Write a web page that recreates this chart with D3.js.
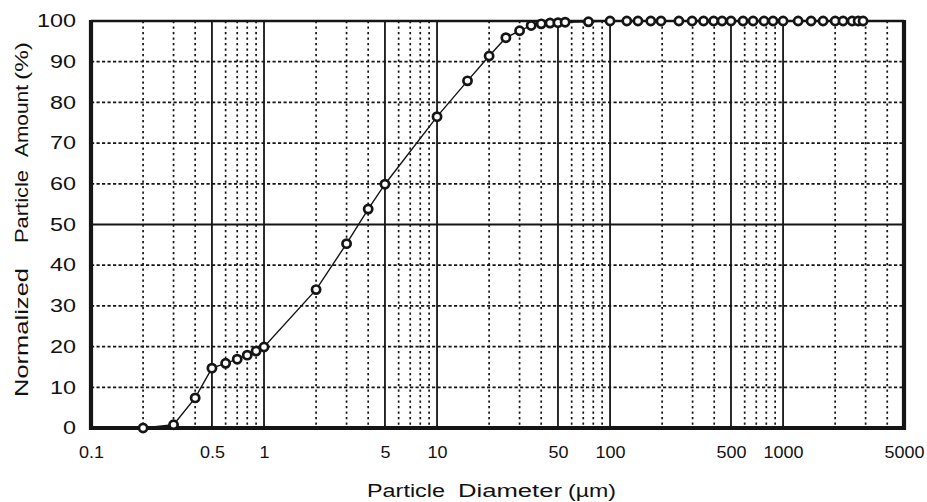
<!DOCTYPE html>
<html><head><meta charset="utf-8">
<script src="https://cdn.jsdelivr.net/npm/d3@7"></script>
<style>
html,body{margin:0;padding:0;background:#fff;}
svg{display:block;}
text{font-family:"Liberation Sans",Arial,Helvetica,sans-serif;fill:#111;}
</style></head><body>
<svg id="chart" width="927" height="502"></svg>
<script>
// ---- data ----
const diameters = [0.2, 0.3, 0.4, 0.5, 0.6, 0.7, 0.8, 0.9, 1, 2, 3, 4, 5, 10, 15, 20, 25, 30, 35, 40, 45, 50, 55, 75,
  100, 125, 145, 172, 197, 250, 298, 347, 397, 444, 500, 587, 671, 776, 875, 1000,
  1222, 1452, 1703, 2000, 2223, 2506, 2716, 2900];
const amounts = [0, 0.8, 7.4, 14.7, 15.9, 16.9, 17.9, 18.9, 19.9, 34.0, 45.3, 53.8, 59.9, 76.5, 85.3, 91.4, 95.9, 97.6, 98.9, 99.3, 99.5, 99.6, 99.7, 99.8,
  100, 100, 100, 100, 100, 100, 100, 100, 100, 100, 100, 100, 100, 100, 100, 100,
  100, 100, 100, 100, 100, 100, 100, 100];
const xTickValues = [0.1, 0.5, 1, 5, 10, 50, 100, 500, 1000, 5000];
const yTickValues = [0, 10, 20, 30, 40, 50, 60, 70, 80, 90, 100];
const xMajorGrid = [0.5, 1, 5, 10, 50, 100, 500, 1000];
const xMinorGrid = [0.2, 0.3, 0.4, 0.6, 0.7, 0.8, 0.9, 2, 3, 4, 6, 7, 8, 9, 20, 30, 40, 60, 70, 80, 90,
  200, 300, 400, 600, 700, 800, 900, 2000, 3000, 4000];
const yMajorGrid = [50];
const yMinorGrid = [10, 20, 30, 40, 60, 70, 80, 90];
const xTitleWords = ["Particle", "Diameter", "(µm)"];
const yTitleWords = ["Normalized", "Particle", "Amount", "(%)"];

// ---- layout ----
const L = 91, R = 904, T = 21, B = 428;
const x = d3.scaleLog().domain([0.1, 5000]).range([L, R]);
const y = d3.scaleLinear().domain([0, 100]).range([B, T]);
const svg = d3.select("#chart");
const ink = "#151515";

// grid
const grid = svg.append("g");
grid.append("g").selectAll("line").data(xMinorGrid).join("line")
  .attr("x1", d => x(d)).attr("x2", d => x(d)).attr("y1", T).attr("y2", B)
  .attr("stroke", ink).attr("stroke-width", 1.7).attr("stroke-dasharray", "2.3,3.2");
grid.append("g").selectAll("line").data(yMinorGrid).join("line")
  .attr("y1", d => y(d)).attr("y2", d => y(d)).attr("x1", L).attr("x2", R)
  .attr("stroke", ink).attr("stroke-width", 1.7).attr("stroke-dasharray", "3.2,2.3");
grid.append("g").selectAll("line").data(xMajorGrid).join("line")
  .attr("x1", d => x(d)).attr("x2", d => x(d)).attr("y1", T).attr("y2", B)
  .attr("stroke", ink).attr("stroke-width", 1.8);
grid.append("g").selectAll("line").data(yMajorGrid).join("line")
  .attr("y1", d => y(d)).attr("y2", d => y(d)).attr("x1", L).attr("x2", R)
  .attr("stroke", ink).attr("stroke-width", 1.8);

// frame
const frame = svg.append("g").attr("stroke", ink).attr("fill", "none");
frame.append("line").attr("x1", L).attr("x2", R).attr("y1", T).attr("y2", T).attr("stroke-width", 2.6);
frame.append("line").attr("x1", L).attr("x2", L).attr("y1", T - 1).attr("y2", B + 2).attr("stroke-width", 4.2);
frame.append("line").attr("x1", R).attr("x2", R).attr("y1", T - 1).attr("y2", B + 2).attr("stroke-width", 4.2);
frame.append("line").attr("x1", L - 2).attr("x2", R + 2).attr("y1", B).attr("y2", B).attr("stroke-width", 4);

// curve
const pts = d3.zip(diameters, amounts);
svg.append("path").datum(pts)
  .attr("d", d3.line().x(d => x(d[0])).y(d => y(d[1])))
  .attr("fill", "none").attr("stroke", ink).attr("stroke-width", 1.4);
svg.append("g").selectAll("circle").data(pts).join("circle")
  .attr("cx", d => x(d[0])).attr("cy", d => y(d[1])).attr("r", 4.1)
  .attr("fill", "#fff").attr("stroke", ink).attr("stroke-width", 2.7);

// axes (labels only)
const xAxis = svg.append("g").attr("transform", `translate(0,${B})`)
  .call(d3.axisBottom(x).tickValues(xTickValues).tickFormat(d => String(d)).tickSize(0).tickPadding(18));
xAxis.select(".domain").remove();
xAxis.selectAll("text").attr("font-size", 16.5).attr("fill", "#111")
  .attr("font-family", '"Liberation Sans",Arial,sans-serif')
  .attr("textLength", d => { const s = String(d); return s.replace(".", "").length * 10 + (s.includes(".") ? 5 : 0); })
  .attr("lengthAdjust", "spacingAndGlyphs");

const yAxis = svg.append("g").attr("transform", `translate(${L},0)`)
  .call(d3.axisLeft(y).tickValues(yTickValues).tickFormat(d => String(d)).tickSize(0).tickPadding(15));
yAxis.select(".domain").remove();
yAxis.selectAll("text").attr("font-size", 18).attr("fill", "#111")
  .attr("font-family", '"Liberation Sans",Arial,sans-serif')
  .attr("textLength", d => String(d).length * 13)
  .attr("lengthAdjust", "spacingAndGlyphs");

// x title
const xSpans = [[367, 445], [458, 562], [568, 616]];
svg.append("g").selectAll("text").data(xTitleWords).join("text")
  .attr("x", (d, i) => xSpans[i][0]).attr("y", 497)
  .attr("font-size", 17.5)
  .attr("textLength", (d, i) => xSpans[i][1] - xSpans[i][0])
  .attr("lengthAdjust", "spacingAndGlyphs")
  .text(d => d);

// y title (rotated)
const ySpans = [[397, 268], [243, 170], [157, 85], [80, 42]];
svg.append("g").attr("transform", "translate(28,0) rotate(-90)")
  .selectAll("text").data(yTitleWords).join("text")
  .attr("x", (d, i) => -ySpans[i][0]).attr("y", 0)
  .attr("font-size", 17.5)
  .attr("textLength", (d, i) => ySpans[i][0] - ySpans[i][1])
  .attr("lengthAdjust", "spacingAndGlyphs")
  .text(d => d);
</script>
</body></html>
